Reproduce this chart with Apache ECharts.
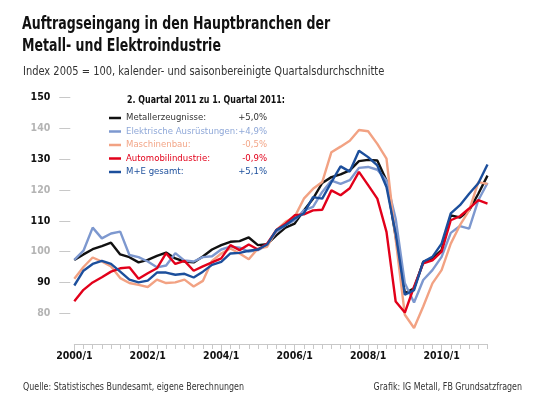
<!DOCTYPE html>
<html>

<head>
	<meta charset="utf-8" />
	<title>Auftragseingang Metall- und Elektroindustrie</title>
	<script src="https://cdn.jsdelivr.net/npm/echarts@6/dist/echarts.min.js"></script>
	<style>
		* {
			margin: 0;
			padding: 0;
		}

		html,
		body {
			width: 543px;
			height: 409px;
			background: #fff;
		}

		#main {
			width: 543px;
			height: 409px;
		}
	</style>
</head>

<body>
	<div id="main"></div>
	<script>
		// Quartale 2000/1 bis 2011/2
		var quarters = [
			'2000/1', '2000/2', '2000/3', '2000/4', '2001/1', '2001/2', '2001/3', '2001/4',
			'2002/1', '2002/2', '2002/3', '2002/4', '2003/1', '2003/2', '2003/3', '2003/4',
			'2004/1', '2004/2', '2004/3', '2004/4', '2005/1', '2005/2', '2005/3', '2005/4',
			'2006/1', '2006/2', '2006/3', '2006/4', '2007/1', '2007/2', '2007/3', '2007/4',
			'2008/1', '2008/2', '2008/3', '2008/4', '2009/1', '2009/2', '2009/3', '2009/4',
			'2010/1', '2010/2', '2010/3', '2010/4', '2011/1', '2011/2'
		];

		var metall = [
			97.3, 99.1, 100.8, 101.8, 102.9, 99.1, 98.2, 96.5, 97.3, 98.6, 99.7, 97.8, 96.8, 96.5, 98.4, 100.7,
			102.1, 103.2, 103.4, 104.6, 102.1, 102.4, 105.3, 107.8, 109.1, 113.4, 117.2, 122.3, 124.2, 125.1,
			126.4, 129.4, 129.8, 129.6, 123.1, 104.8, 86.5, 88.1, 96.7, 97.8, 100.5, 111.8, 111.1, 113.4, 118.8, 124.7
		];
		var elektro = [
			97.3, 100.3, 107.8, 104.3, 105.9, 106.5, 98.9, 98.2, 96.8, 94.9, 95.5, 99.5, 97.1, 96.8, 98.2, 98.5,
			100.7, 101.6, 101.3, 100.0, 100.5, 102.1, 106.4, 108.6, 110.2, 113.4, 114.5, 119.4, 123.1, 122.0,
			123.2, 127.2, 127.5, 126.6, 123.1, 110.7, 89.7, 83.5, 90.8, 94.0, 98.3, 106.1, 108.3, 107.5, 116.7, 122.3
		];
		var maschinen = [
			91.2, 95.0, 98.1, 96.8, 95.2, 91.4, 89.8, 89.2, 88.5, 90.9, 89.8, 90.0, 90.9, 88.7, 90.5, 97.0,
			99.4, 101.0, 99.4, 97.5, 101.0, 101.6, 107.0, 109.7, 111.3, 117.2, 120.4, 122.6, 132.3, 134.1,
			136.0, 139.5, 139.1, 135.0, 130.2, 104.0, 79.5, 75.2, 82.2, 89.7, 94.0, 102.6, 108.6, 113.4, 122.6, 122.0
		];
		var auto = [
			83.9, 87.6, 90.0, 91.7, 93.5, 94.6, 94.9, 91.2, 93.0, 94.6, 99.5, 96.0, 97.0, 93.8, 95.2, 96.5,
			97.8, 102.1, 100.5, 102.3, 100.7, 102.6, 107.0, 109.1, 111.8, 112.1, 113.4, 113.6, 119.9, 118.3,
			120.6, 125.9, 121.6, 117.2, 106.4, 83.8, 80.2, 88.6, 96.2, 97.2, 100.0, 110.2, 111.5, 114.0, 116.7, 115.6
		];
		var gesamt = [
			89.0, 93.8, 96.0, 97.0, 96.0, 93.5, 90.9, 90.0, 90.6, 93.2, 93.2, 92.5, 92.8, 91.6, 93.5, 95.7,
			96.7, 99.4, 99.6, 100.3, 100.7, 102.3, 107.0, 108.6, 110.8, 112.4, 117.7, 117.2, 122.6, 127.7,
			126.0, 132.8, 130.7, 128.0, 121.0, 105.9, 86.0, 87.5, 96.7, 98.3, 102.6, 112.4, 115.1, 118.8, 122.2, 128.3
		];

		var names = ['Metallerzeugnisse', 'Elektrische Ausrüstungen', 'Maschinenbau', 'Automobilindustrie', 'M+E gesamt'];
		var changes = ['+5,0%', '+4,9%', '-0,5%', '-0,9%', '+5,1%'];
		var colors = ['#111111', '#7d98cf', '#f2a283', '#e2001a', '#1c4f9c'];
		var textColors = ['#333333', '#8fa8d8', '#f3a688', '#e2001a', '#1c4f9c'];
		var yTicks = [80, 90, 100, 110, 120, 130, 140, 150];

		var narrow = "'Liberation Sans Narrow', 'DejaVu Sans Condensed', sans-serif";

		var myChart = echarts.init(document.getElementById('main'), null, { renderer: 'canvas' });

		function lineSeries(idx, data) {
			return {
				name: names[idx],
				type: 'line',
				data: data,
				showSymbol: false,
				symbol: 'none',
				silent: true,
				lineStyle: { color: colors[idx], width: 2.4 },
				itemStyle: { color: colors[idx] },
				emphasis: { disabled: true },
				z: 2 + idx
			};
		}

		// schmal gestauchter Text (Schrift der Vorlage ist eine Condensed)
		function squeezed(text, x, y, size, weight, color, sx, align) {
			return {
				type: 'text',
				x: x,
				y: y,
				scaleX: sx,
				silent: true,
				style: {
					text: text,
					fill: color,
					font: weight + ' ' + size + 'px ' + narrow,
					align: align || 'left',
					verticalAlign: 'top'
				}
			};
		}

		var option = {
			animation: false,
			graphic: [
				squeezed('Auftragseingang in den Hauptbranchen der', 22, 16, 17, 'bold', '#111', 0.82),
				squeezed('Metall- und Elektroindustrie', 22, 38, 17, 'bold', '#111', 0.82),
				squeezed('Index 2005 = 100, kalender- und saisonbereinigte Quartalsdurchschnitte', 23, 65, 12.5, 'normal', '#333', 0.88),
				squeezed('2. Quartal 2011 zu 1. Quartal 2011:', 127, 95, 11, 'bold', '#111', 0.8),
				squeezed('Quelle: Statistisches Bundesamt, eigene Berechnungen', 23, 382, 10.5, 'normal', '#333', 0.84),
				squeezed('Grafik: IG Metall, FB Grundsatzfragen', 522, 382, 10.5, 'normal', '#333', 0.84, 'right')
			],
			legend: {
				orient: 'vertical',
				left: 104,
				top: 107,
				itemWidth: 12,
				itemHeight: 2.5,
				itemGap: 1.5,
				icon: 'rect',
				selectedMode: false,
				data: names.map(function (n, i) {
					return { name: n, itemStyle: { color: colors[i] }, textStyle: { color: textColors[i] } };
				}),
				formatter: function (name) {
					var i = names.indexOf(name);
					return '{n|' + name + ':}{v|' + changes[i] + '}';
				},
				textStyle: {
					fontFamily: narrow,
					fontSize: 9.5,
					lineHeight: 12,
					rich: {
						n: { fontFamily: narrow, fontSize: 9.5, width: 116 },
						v: { fontFamily: narrow, fontSize: 9.5, width: 25, align: 'right' }
					}
				}
			},
			grid: {
				left: 74.3,
				right: 55.5,
				top: 97.7,
				bottom: 65,
				containLabel: false
			},
			xAxis: [
				{
					type: 'category',
					data: quarters,
					boundaryGap: false,
					axisLine: { lineStyle: { color: '#c8c8c8', width: 1 } },
					axisTick: { show: true, interval: 7, length: 8, lineStyle: { color: '#c8c8c8' } },
					axisLabel: {
						interval: 7,
						margin: 7,
						fontFamily: narrow,
						fontSize: 10.5,
						fontWeight: 'bold',
						color: '#111'
					},
					splitLine: { show: false }
				},
				{
					type: 'category',
					data: quarters,
					boundaryGap: false,
					position: 'bottom',
					axisLine: { show: false },
					axisTick: { show: true, interval: 0, length: 5, lineStyle: { color: '#c8c8c8' } },
					axisLabel: { show: false },
					splitLine: { show: false }
				}
			],
			yAxis: {
				type: 'value',
				min: 70,
				max: 150,
				interval: 10,
				offset: 4,
				axisLine: { show: false },
				axisTick: { show: true, length: 11, customValues: yTicks, lineStyle: { color: '#c8c8c8' } },
				splitLine: { show: false },
				axisLabel: {
					customValues: yTicks,
					margin: 20,
					formatter: function (v) {
						return (v % 20 === 10) ? '{b|' + v + '}' : '{g|' + v + '}';
					},
					rich: {
						b: { fontFamily: narrow, fontSize: 10.5, fontWeight: 'bold', color: '#111' },
						g: { fontFamily: narrow, fontSize: 10.5, fontWeight: 'bold', color: '#b4b4b4' }
					}
				}
			},
			series: [
				lineSeries(2, maschinen),
				lineSeries(1, elektro),
				lineSeries(3, auto),
				lineSeries(4, gesamt),
				lineSeries(0, metall)
			]
		};

		myChart.setOption(option);
	</script>
</body>

</html>
